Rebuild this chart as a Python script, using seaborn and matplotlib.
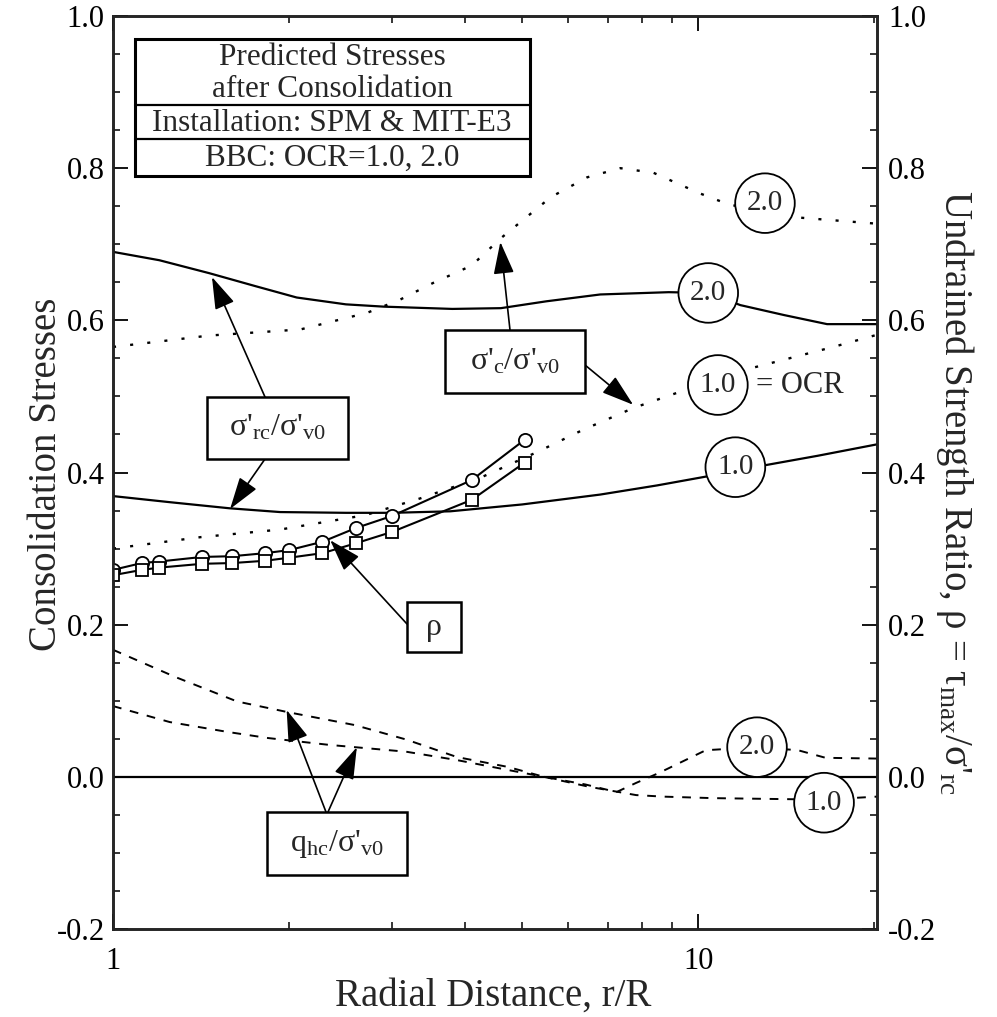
import numpy as np
import matplotlib
matplotlib.use("Agg")
import matplotlib.pyplot as plt
import seaborn as sns
from matplotlib.patches import Rectangle
from matplotlib.lines import Line2D
from matplotlib.ticker import MultipleLocator, LogLocator, NullFormatter

# ---------------- data ----------------
# sigma'_rc / sigma'_v0 (solid)
x_rc2 = [1.0, 1.2, 1.46, 1.75, 2.06, 2.5, 2.9, 3.8, 4.6, 5.5, 6.8, 8.9, 10.4, 11.8, 14.0, 16.6, 20.2]
y_rc2 = [0.690, 0.679, 0.662, 0.645, 0.630, 0.621, 0.618, 0.615, 0.616, 0.625, 0.634, 0.637, 0.636, 0.620, 0.607, 0.595, 0.595]
x_rc1 = [1.0, 1.25, 1.58, 1.93, 2.5, 3.0, 3.77, 5.0, 6.8, 8.5, 10.2, 11.6, 13.1, 16.0, 20.2]
y_rc1 = [0.369, 0.361, 0.353, 0.348, 0.347, 0.347, 0.349, 0.358, 0.371, 0.383, 0.394, 0.402, 0.410, 0.422, 0.437]

# sigma'_c / sigma'_v0 (dotted)
x_c2 = [1.0, 1.46, 2.09, 2.72, 3.09, 3.52, 4.1, 4.6, 5.6, 6.46, 7.36, 8.38, 10.05, 11.3, 13.0, 14.9, 20.2]
y_c2 = [0.565, 0.580, 0.588, 0.610, 0.627, 0.649, 0.672, 0.708, 0.762, 0.788, 0.800, 0.794, 0.767, 0.752, 0.744, 0.735, 0.727]
x_c1 = [1.0, 1.41, 1.93, 2.7, 3.35, 4.24, 5.31, 6.35, 7.76, 9.3, 12.3, 17.0, 20.2]
y_c1 = [0.300, 0.315, 0.325, 0.344, 0.366, 0.393, 0.427, 0.456, 0.485, 0.506, 0.537, 0.565, 0.581]

# rho = tau_max / sigma'_rc (markers)
x_rho = [1.0, 1.12, 1.2, 1.42, 1.6, 1.82, 2.0, 2.28, 2.6, 3.0, 4.1, 5.05]
y_rho_circ = [0.272, 0.281, 0.283, 0.289, 0.290, 0.294, 0.298, 0.309, 0.327, 0.343, 0.390, 0.443]
y_rho_sq = [0.265, 0.272, 0.275, 0.280, 0.281, 0.284, 0.288, 0.294, 0.307, 0.322, 0.364, 0.413]

# q_hc / sigma'_v0 (dashed)
x_q2 = [1.0, 1.28, 1.63, 1.99, 2.59, 3.17, 3.87, 4.73, 5.45, 6.41, 7.25, 7.83, 8.56, 10.3, 12.6, 14.8, 16.5, 20.2]
y_q2 = [0.167, 0.131, 0.099, 0.085, 0.068, 0.049, 0.026, 0.013, 0.000, -0.010, -0.020, -0.008, 0.005, 0.035, 0.039, 0.035, 0.025, 0.024]
x_q1 = [1.0, 1.25, 1.57, 1.84, 2.34, 3.17, 3.87, 4.73, 5.45, 6.5, 7.83, 8.7, 10.6, 16.4, 20.2]
y_q1 = [0.093, 0.072, 0.059, 0.051, 0.042, 0.033, 0.022, 0.009, 0.000, -0.013, -0.024, -0.026, -0.028, -0.030, -0.026]

y_ticks = [-0.2, 0.0, 0.2, 0.4, 0.6, 0.8, 1.0]
y_tick_labels = ["-0.2", "0.0", "0.2", "0.4", "0.6", "0.8", "1.0"]
x_ticks = [1, 10]
x_tick_labels = ["1", "10"]

legend_lines = ["Predicted Stresses", "after Consolidation",
                "Installation: SPM & MIT-E3", "BBC: OCR=1.0, 2.0"]

# ---------------- style ----------------
sns.set_style("ticks")
plt.rcParams["font.family"] = ["Liberation Serif", "DejaVu Serif"]
plt.rcParams["mathtext.fontset"] = "custom"
plt.rcParams["mathtext.rm"] = "Liberation Serif"
plt.rcParams["mathtext.it"] = "Liberation Serif:italic"
plt.rcParams["mathtext.bf"] = "Liberation Serif:bold"
plt.rcParams["axes.unicode_minus"] = False

W, H = 997, 1017
fig = plt.figure(figsize=(W / 100, H / 100), dpi=100)
AX_L, AX_R, AX_T, AX_B = 113, 877, 16, 929
ax = fig.add_axes([AX_L / W, 1 - AX_B / H, (AX_R - AX_L) / W, (AX_B - AX_T) / H])


def fp(x, y):
    return (x / W, 1 - y / H)


ax.set_xscale("log")
ax.set_xlim(1, 20.2)
ax.set_ylim(-0.2, 1.0)

K = "black"
LW = 1.6
dotted = (0, (1.3, 6))
dashed = (0, (4.5, 4.5))

ax.axhline(0, color=K, lw=1.6, zorder=1)

sns.lineplot(x=x_rc2, y=y_rc2, ax=ax, color=K, lw=LW, linestyle="-", legend=False)
sns.lineplot(x=x_rc1, y=y_rc1, ax=ax, color=K, lw=LW, linestyle="-", legend=False)
sns.lineplot(x=x_c2, y=y_c2, ax=ax, color=K, lw=1.7, linestyle=dotted, legend=False)
sns.lineplot(x=x_c1, y=y_c1, ax=ax, color=K, lw=1.7, linestyle=dotted, legend=False)
sns.lineplot(x=x_q2, y=y_q2, ax=ax, color=K, lw=1.4, linestyle=dashed, legend=False)
sns.lineplot(x=x_q1, y=y_q1, ax=ax, color=K, lw=1.4, linestyle=dashed, legend=False)
sns.lineplot(x=x_rho, y=y_rho_circ, ax=ax, color=K, lw=1.5, linestyle="-", marker="o",
             markersize=9.5, mfc="white", mec=K, mew=1.3, legend=False, zorder=3)
sns.lineplot(x=x_rho, y=y_rho_sq, ax=ax, color=K, lw=1.5, linestyle="-", marker="s",
             markersize=8, mfc="white", mec=K, mew=1.3, legend=False, zorder=3)

# ---------------- axes / ticks ----------------
ax.set_yticks(y_ticks)
ax.set_yticklabels(y_tick_labels)
ax.yaxis.set_minor_locator(MultipleLocator(0.05))
ax.set_xticks(x_ticks)
ax.set_xticklabels(x_tick_labels)
ax.xaxis.set_minor_locator(LogLocator(base=10, subs=np.arange(2, 10)))
ax.xaxis.set_minor_formatter(NullFormatter())
ax.tick_params(axis="both", which="major", direction="in", length=11, width=1.3,
               labelsize=22, top=True, right=False, color=K, labelcolor=K)
ax.tick_params(axis="both", which="minor", direction="in", length=5, width=1.1,
               top=True, right=False, color=K)
ax.tick_params(axis="y", which="major", pad=6)
ax.tick_params(axis="x", which="major", pad=13)
for s in ax.spines.values():
    s.set_linewidth(1.8)
    s.set_color(K)
ax.set_xlabel("")
ax.set_ylabel("")

ax2 = ax.twinx()
ax2.set_ylim(-0.2, 1.0)
ax2.set_yticks(y_ticks)
ax2.set_yticklabels(y_tick_labels)
ax2.yaxis.set_minor_locator(MultipleLocator(0.05))
ax2.tick_params(axis="y", which="major", direction="in", length=11, width=1.3,
                labelsize=22, pad=8, color=K, labelcolor=K)
ax2.tick_params(axis="y", which="minor", direction="in", length=5, width=1.1, color=K)
for s in ax2.spines.values():
    s.set_linewidth(1.8)

fig.text(*fp(493, 1006), "Radial Distance, r/R", ha="center", va="baseline", fontsize=28)
fig.text(*fp(46, 474), "Consolidation Stresses", ha="center", va="center",
         rotation=90, fontsize=28)
fig.text(*fp(955, 492), r"Undrained Strength Ratio, ρ = τ$_{\mathregular{max}}$/σ'$_{\mathregular{rc}}$",
         ha="center", va="center", rotation=-90, fontsize=28)

# ---------------- legend box ----------------
def rect(x0, y0, x1, y1, lw=1.8):
    r = Rectangle(fp(x0, y1), (x1 - x0) / W, (y1 - y0) / H, transform=fig.transFigure,
                  fc="white", ec=K, lw=lw, zorder=6)
    fig.patches.append(r)


rect(135, 39, 530, 176, lw=2.2)
for yy in (105, 139):
    fig.lines.append(Line2D([135 / W, 530 / W], [1 - yy / H, 1 - yy / H],
                            transform=fig.transFigure, color=K, lw=1.6, zorder=7))
for txt, yb in zip(legend_lines, (65, 97, 131, 166)):
    fig.text(*fp(332, yb), txt, ha="center", va="baseline", fontsize=22.5, zorder=8)

# ---------------- annotation boxes ----------------
boxes = [
    ((207, 397, 348, 459), r"σ'$_{\mathregular{rc}}$/σ'$_{\mathregular{v0}}$"),
    ((445, 330, 585, 393), r"σ'$_{\mathregular{c}}$/σ'$_{\mathregular{v0}}$"),
    ((407, 602, 461, 652), "ρ"),
    ((267, 812, 407, 875), r"q$_{\mathregular{hc}}$/σ'$_{\mathregular{v0}}$"),
]
for (x0, y0, x1, y1), txt in boxes:
    rect(x0, y0, x1, y1)
    fig.text(*fp((x0 + x1) / 2, (y0 + y1) / 2), txt, ha="center", va="center",
             fontsize=23, zorder=8)

arrows = [
    ((1.476, 0.657), (265, 397)),
    ((1.585, 0.352), (265, 459)),
    ((4.59, 0.703), (510, 330)),
    ((7.74, 0.489), (585, 365)),
    ((2.35, 0.311), (407, 624)),
    ((1.98, 0.088), (326, 812)),
    ((2.61, 0.039), (328, 812)),
]
for tip, tail in arrows:
    ax.annotate("", xy=tip, xycoords="data", xytext=fp(*tail), textcoords="figure fraction",
                arrowprops=dict(arrowstyle="-|>,head_length=1.0,head_width=0.32",
                                mutation_scale=20, lw=1.2, color=K,
                                shrinkA=0, shrinkB=0), zorder=5)

# ---------------- circled OCR labels ----------------
circ = dict(boxstyle="circle,pad=0.4", fc="white", ec=K, lw=1.3)
labels = [
    (13.0, 0.754, "2.0"),
    (10.4, 0.636, "2.0"),
    (10.8, 0.515, "1.0"),
    (11.57, 0.407, "1.0"),
    (12.6, 0.039, "2.0"),
    (16.4, -0.034, "1.0"),
]
for x, y, t in labels:
    ax.text(x, y, t, ha="center", va="center", fontsize=21, bbox=circ, zorder=6)
ax.text(14.9, 0.515, "= OCR", ha="center", va="center", fontsize=22, zorder=6)

fig.savefig("out.png", dpi=100)
